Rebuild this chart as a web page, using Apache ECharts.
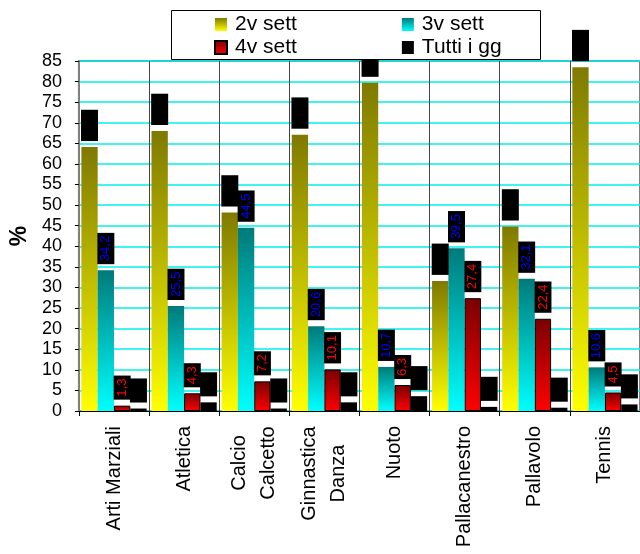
<!DOCTYPE html>
<html>
<head>
<meta charset="utf-8">
<script src="https://cdn.jsdelivr.net/npm/echarts@6/dist/echarts.min.js"></script>
<style>
  html, body { margin: 0; padding: 0; background: #fff; }
  #chart { width: 640px; height: 554px; }
</style>
</head>
<body>
<div id="chart"></div>
<script>
// Sports and the share (%) of each training frequency
const categories = ['Arti Marziali', 'Atletica', 'Calcio\nCalcetto', 'Ginnastica\nDanza', 'Nuoto', 'Pallacanestro', 'Pallavolo', 'Tennis'];
const seriesNames = ['2v sett', '3v sett', '4v sett', 'Tutti i gg'];
const dueVolte = [64.1, 68.0, 48.2, 67.1, 79.7, 31.6, 44.8, 83.5];
const treVolte = [34.2, 25.5, 44.5, 20.6, 10.7, 39.5, 32.1, 10.6];
const quattroVolte = [1.3, 4.3, 7.2, 10.1, 6.3, 27.4, 22.4, 4.5];
const tuttiGiorni = [0.6, 2.1, 0.6, 2.1, 3.6, 1.0, 0.8, 1.6];
const yMin = 0, yMax = 85, yStep = 5;

const FONT = '"Liberation Sans", Arial, sans-serif';

// Measure text so multi-line category labels can have their lines centred on each other
const ctx = document.createElement('canvas').getContext('2d');
ctx.font = '20px "Liberation Sans", Arial, sans-serif';
const rich = {};
categories.forEach((c, i) => {
  const lines = c.split('\n');
  if (lines.length > 1) {
    const w = Math.ceil(Math.max(...lines.map(l => ctx.measureText(l).width)));
    rich['m' + i] = { width: w, align: 'center', fontSize: 20, lineHeight: 29, fontFamily: FONT, color: '#000' };
  }
});

function grad(top, bottom) {
  return new echarts.graphic.LinearGradient(0, 0, 0, 1, [
    { offset: 0, color: top },
    { offset: 1, color: bottom }
  ]);
}

const fmt = p => p.value.toFixed(1).replace('.', ',');

function barLabel(color) {
  return {
    show: true,
    position: 'top',
    rotate: 90,
    align: 'left',
    verticalAlign: 'middle',
    distance: 6,
    formatter: fmt,
    color: color,
    fontSize: 13,
    fontFamily: FONT,
    backgroundColor: '#000',
    padding: [2, 3]
  };
}

const common = { type: 'bar', barGap: '0%', barCategoryGap: '7%' };

const legendText = { fontSize: 21, color: '#000', fontFamily: FONT, padding: [0, 0, 0, 3] };

const chart = echarts.init(document.getElementById('chart'), null, { renderer: 'canvas' });
chart.setOption({
  animation: false,
  backgroundColor: '#fff',
  grid: {
    left: 73, right: -4, top: 61, bottom: 143,
    show: true, borderColor: '#7f7f7f', borderWidth: 2, backgroundColor: '#fff'
  },
  graphic: [{
    type: 'rect',
    z: 100,
    shape: { x: 171.5, y: 10.5, width: 369, height: 49 },
    style: { fill: '#fff', stroke: '#000', lineWidth: 1 }
  }],
  legend: [
    {
      data: [seriesNames[0], seriesNames[1]],
      left: 215, top: 14, padding: 0, z: 101,
      itemWidth: 12, itemHeight: 13, itemGap: 105, icon: 'rect',
      selectedMode: false,
      textStyle: legendText
    },
    {
      data: [seriesNames[2], seriesNames[3]],
      left: 214, top: 37, padding: 0, z: 101,
      itemWidth: 12, itemHeight: 13, itemGap: 105, icon: 'rect',
      selectedMode: false,
      textStyle: legendText
    }
  ],
  xAxis: {
    type: 'category',
    data: categories,
    axisLine: { lineStyle: { color: '#000', width: 1 } },
    axisTick: { show: true, length: 5, lineStyle: { color: '#000' } },
    splitLine: { show: true, lineStyle: { color: '#444', width: 1 } },
    axisLabel: {
      interval: 0,
      rotate: 90,
      margin: 15,
      fontSize: 20,
      lineHeight: 29,
      fontFamily: FONT,
      color: '#000',
      rich: rich,
      formatter: (v, i) => {
        const lines = v.split('\n');
        if (lines.length > 1) return lines.map(l => '{m' + i + '|' + l + '}').join('\n');
        return v;
      }
    }
  },
  yAxis: {
    type: 'value',
    min: yMin, max: yMax, interval: yStep,
    name: '%',
    nameLocation: 'middle',
    nameRotate: 90,
    nameGap: 44,
    nameTextStyle: { fontSize: 23, fontWeight: 'bold', color: '#000', fontFamily: FONT },
    axisLine: { show: true, lineStyle: { color: '#808080', width: 2 } },
    axisTick: { show: true, length: 4, lineStyle: { color: '#000' } },
    axisLabel: { fontSize: 18, color: '#000', fontFamily: FONT, margin: 17 },
    splitLine: { show: true, lineStyle: { color: '#00f0f0', width: 1.5 } }
  },
  series: [
    Object.assign({}, common, {
      name: seriesNames[0], data: dueVolte,
      itemStyle: { color: grad('#7f7a00', '#ffff00') },
      label: barLabel('#000')
    }),
    Object.assign({}, common, {
      name: seriesNames[1], data: treVolte,
      itemStyle: { color: grad('#007a7a', '#00ffff') },
      label: barLabel('#0000ff')
    }),
    Object.assign({}, common, {
      name: seriesNames[2], data: quattroVolte,
      itemStyle: { color: grad('#7a0000', '#ff0000'), borderColor: '#000', borderWidth: 1 },
      label: barLabel('#ff0000')
    }),
    Object.assign({}, common, {
      name: seriesNames[3], data: tuttiGiorni,
      itemStyle: { color: '#000' },
      label: barLabel('#000')
    })
  ]
});
</script>
</body>
</html>
